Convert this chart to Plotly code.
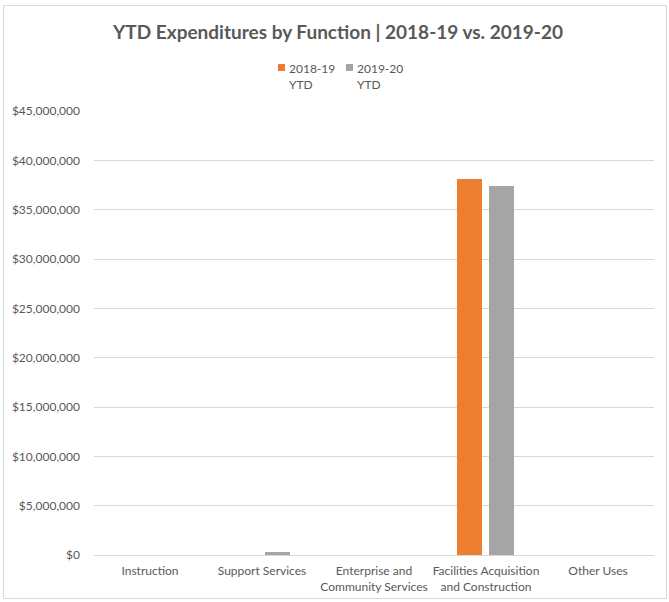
import plotly.graph_objects as go

# Expenditure categories (functions)
categories = [
    "Instruction",
    "Support Services",
    "Enterprise and<br>Community Services",
    "Facilities Acquisition<br>and Construction",
    "Other Uses",
]

# YTD expenditures in dollars
ytd_2018_19 = [0, 0, 0, 38_100_000, 0]
ytd_2019_20 = [0, 300_000, 0, 37_400_000, 0]

series_names = ["2018-19<br>YTD", "2019-20<br>YTD"]
series_colors = ["#ED7D31", "#A5A5A5"]

y_ticks = list(range(0, 45_000_001, 5_000_000))
y_tick_labels = ["$0"] + [f"${v:,}" for v in y_ticks[1:]]

W, H = 669, 602
L, R, T, B = 94, 15, 111, 47

text_color = "#595959"
font_family = "Lato, 'Open Sans', sans-serif"

fig = go.Figure()
fig.add_trace(go.Bar(
    x=categories, y=ytd_2018_19, name=series_names[0],
    marker=dict(color=series_colors[0], line=dict(width=0)),
    width=0.223, offset=-0.259, showlegend=False,
))
fig.add_trace(go.Bar(
    x=categories, y=ytd_2019_20, name=series_names[1],
    marker=dict(color=series_colors[1], line=dict(width=0)),
    width=0.223, offset=0.027, showlegend=False,
))

pw = W - L - R
ph = H - T - B

def px_x(x):
    return (x - L) / pw

def px_y(y):
    return (H - B - y) / ph

# thin outer frame around the chart
fig.add_shape(
    type="rect", xref="paper", yref="paper",
    x0=px_x(3.5), x1=px_x(666.5), y0=px_y(598.5), y1=px_y(5.5),
    line=dict(color="#D9D9D9", width=1), fillcolor="rgba(0,0,0,0)",
    layer="below",
)

# compact legend: small colour swatch followed by a two-line label
legend_x = [278, 346]
for name, color, lx in zip(series_names, series_colors, legend_x):
    fig.add_shape(
        type="rect", xref="paper", yref="paper",
        x0=px_x(lx), x1=px_x(lx + 7), y0=px_y(71), y1=px_y(64),
        line=dict(width=0), fillcolor=color,
    )
    fig.add_annotation(
        xref="paper", yref="paper", x=px_x(lx + 9), y=px_y(58.5),
        xanchor="left", yanchor="top", align="left", showarrow=False,
        text=name, font=dict(size=12, color=text_color, family=font_family),
    )

fig.update_layout(
    width=W, height=H,
    margin=dict(l=L, r=R, t=T, b=B, pad=0),
    paper_bgcolor="white", plot_bgcolor="white",
    font=dict(family=font_family, color=text_color, size=12),
    title=dict(
        text="<b>YTD Expenditures by Function | 2018-19 vs. 2019-20</b>",
        x=338 / W, xanchor="center", y=1 - 32 / H, yanchor="middle",
        font=dict(size=19, color=text_color, family=font_family),
    ),
    showlegend=False,
    barmode="group",
    xaxis=dict(
        showgrid=False, showline=True, linecolor="#D9D9D9", linewidth=1,
        ticks="", tickfont=dict(size=12, color=text_color),
        tickangle=0, automargin=False, ticklabelstandoff=5,
    ),
    yaxis=dict(
        range=[0, 45_000_000], tickvals=y_ticks, ticktext=y_tick_labels,
        showgrid=True, gridcolor="#D9D9D9", gridwidth=1,
        zeroline=False, showline=False, ticks="", automargin=False,
        tickfont=dict(size=12, color=text_color), ticklabelstandoff=13,
    ),
)

fig.write_html("out.html")
